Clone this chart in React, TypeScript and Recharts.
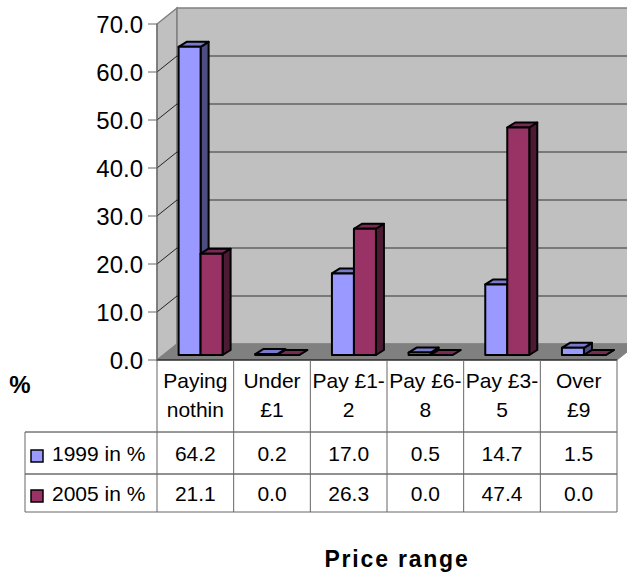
import React from 'react';
import { BarChart, Bar, XAxis, YAxis, CartesianGrid } from 'recharts';

const categories = [['Paying', 'nothin'], ['Under', '£1'], ['Pay £1-', '2'], ['Pay £6-', '8'], ['Pay £3-', '5'], ['Over', '£9']];
const values1999 = [64.2, 0.2, 17.0, 0.5, 14.7, 1.5];
const values2005 = [21.1, 0.0, 26.3, 0.0, 47.4, 0.0];
const yTicks = [0, 10, 20, 30, 40, 50, 60, 70];
const seriesNames = ['1999 in %', '2005 in %'];

const FONT = '"Liberation Sans", Arial, sans-serif';
const COLORS = { a: '#9999ff', aSide: '#4d4d80', aTop: '#7a7acc', b: '#993366', bSide: '#4d1a33', bTop: '#7a2952' };

// plot frame
const LEFT = 157;
const RIGHT = 617;
const TOP = 24;
const BOTTOM = 360;
const DX = 20;
const DY = 16;
const ROW1 = 432;
const ROW2 = 474;
const ROW3 = 512;
const TABLE_LEFT = 25;

const data = categories.map((c, i) => ({
  name: c.join(' '),
  lines: c,
  a: values1999[i],
  b: values2005[i],
}));

// bar with side and top faces, pushed into the middle of the floor depth
const Bar3D = (props: any) => {
  const { x, y, width, height, face, side, top } = props;
  const sx = 5.6;
  const sy = -5;
  const dx = 8;
  const dy = -5;
  const l = x + sx;
  const r = l + width;
  const t = y + sy;
  const b = t + height;
  return (
    <g stroke="#000" strokeWidth={2} strokeLinejoin="round">
      <polygon points={`${r},${t} ${r + dx},${t + dy} ${r + dx},${b + dy} ${r},${b}`} fill={side} />
      <polygon points={`${l},${t} ${l + dx},${t + dy} ${r + dx},${t + dy} ${r},${t}`} fill={top} />
      <rect x={l} y={t} width={width} height={height} fill={face} />
    </g>
  );
};

const Walls = () => (
  <g>
    <polygon
      points={`${LEFT},${TOP} ${LEFT + DX},${TOP - DY} ${LEFT + DX},${BOTTOM - DY} ${LEFT},${BOTTOM}`}
      fill="#c0c0c0"
      stroke="#808080"
      strokeWidth={1.5}
    />
    <polygon
      points={`${LEFT + DX},${TOP - DY} ${RIGHT + DX},${TOP - DY} ${RIGHT + DX},${BOTTOM - DY} ${LEFT + DX},${BOTTOM - DY}`}
      fill="#c0c0c0"
      stroke="#808080"
      strokeWidth={1.5}
    />
    <polygon
      points={`${LEFT},${BOTTOM} ${LEFT + DX},${BOTTOM - DY} ${RIGHT + DX},${BOTTOM - DY} ${RIGHT},${BOTTOM}`}
      fill="#808080"
      stroke="#808080"
    />
  </g>
);

const TableFrame = () => {
  const swatch = (y: number, fill: string) => (
    <rect x={31} y={y} width={12} height={12} fill={fill} stroke="#000" strokeWidth={1.5} />
  );
  return (
    <g>
      <line x1={LEFT} y1={BOTTOM} x2={RIGHT} y2={BOTTOM} stroke="#000" strokeWidth={1.2} />
      <line x1={TABLE_LEFT} y1={ROW1} x2={RIGHT} y2={ROW1} stroke="#333" />
      <line x1={TABLE_LEFT} y1={ROW2} x2={RIGHT} y2={ROW2} stroke="#222" />
      <line x1={TABLE_LEFT} y1={ROW3} x2={RIGHT} y2={ROW3} stroke="#666" />
      <line x1={TABLE_LEFT} y1={ROW1} x2={TABLE_LEFT} y2={ROW3} stroke="#666" />
      <line x1={LEFT} y1={BOTTOM} x2={LEFT} y2={ROW3} stroke="#666" />
      {swatch(ROW1 + 18, COLORS.a)}
      {swatch(ROW2 + 16, COLORS.b)}
      <text x={52} y={ROW1 + 29} fontSize={21} fontFamily={FONT} fill="#000">{seriesNames[0]}</text>
      <text x={52} y={ROW2 + 27} fontSize={21} fontFamily={FONT} fill="#000">{seriesNames[1]}</text>
      <text x={20} y={393} fontSize={24} fontWeight="bold" textAnchor="middle" fontFamily={FONT} fill="#000">%</text>
      <text x={397} y={567} fontSize={23} fontWeight="bold" textAnchor="middle" letterSpacing={1.8} fontFamily={FONT} fill="#000">Price range</text>
    </g>
  );
};

// data table column under each category
const TableTick = (props: any) => {
  const { x, index } = props;
  const half = (RIGHT - LEFT) / categories.length / 2;
  const lines = categories[index];
  const common = { x, textAnchor: 'middle' as const, fontSize: 21, fontFamily: FONT, fill: '#000' };
  return (
    <g>
      <line x1={x + half} y1={BOTTOM} x2={x + half} y2={ROW3} stroke="#666" />
      <text {...common} y={388}>{lines[0]}</text>
      <text {...common} y={417}>{lines[1]}</text>
      <text {...common} y={ROW1 + 29}>{values1999[index].toFixed(1)}</text>
      <text {...common} y={ROW2 + 27}>{values2005[index].toFixed(1)}</text>
    </g>
  );
};

const App = () => {
  const horizontalLine = (p: any) => {
    if (p.y1 <= TOP + 1 || p.y1 >= BOTTOM - 1) return <g key={p.key ?? p.y1} />;
    return (
      <g key={p.key ?? p.y1}>
        <line x1={LEFT} y1={p.y1} x2={LEFT + DX} y2={p.y1 - DY} stroke="#222" />
        <line x1={LEFT + DX} y1={p.y1 - DY} x2={RIGHT + DX} y2={p.y1 - DY} stroke="#333" strokeWidth={1.2} />
      </g>
    );
  };

  return (
    <div style={{ position: 'absolute', left: 0, top: 0, width: 627, height: 576, background: '#fff' }}>
      <BarChart
        width={627}
        height={576}
        data={data}
        margin={{ top: TOP, right: 627 - RIGHT, left: 0, bottom: 0 }}
        barGap={0}
      >
        <Walls />
        <CartesianGrid horizontal={horizontalLine} vertical={false} zIndex={100} />
        <YAxis
          width={LEFT}
          domain={[0, 70]}
          ticks={yTicks}
          tickFormatter={(v: number) => v.toFixed(1)}
          tick={{ fontSize: 24, fontFamily: FONT, fill: '#000' }}
          tickSize={9}
          tickMargin={5}
          stroke="#666"
          interval={0}
        />
        <XAxis
          dataKey="name"
          height={576 - BOTTOM}
          tick={<TableTick />}
          tickLine={false}
          axisLine={false}
          interval={0}
        />
        <Bar dataKey="a" barSize={22} fill={COLORS.a} isAnimationActive={false} shape={<Bar3D face={COLORS.a} side={COLORS.aSide} top={COLORS.aTop} />} />
        <Bar dataKey="b" barSize={22} fill={COLORS.b} isAnimationActive={false} shape={<Bar3D face={COLORS.b} side={COLORS.bSide} top={COLORS.bTop} />} />
        <TableFrame />
      </BarChart>
    </div>
  );
};

export default App;
